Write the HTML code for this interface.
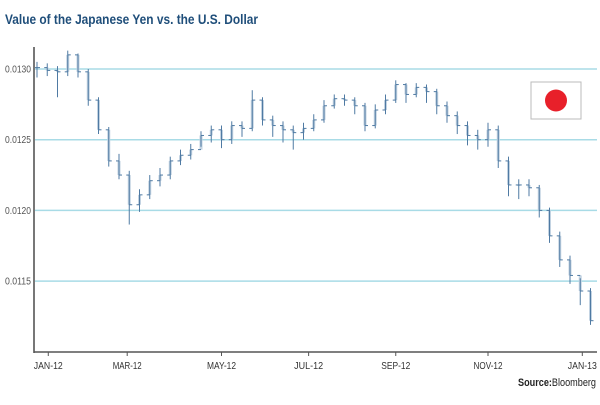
<!DOCTYPE html>
<html><head><meta charset="utf-8"><style>
body{margin:0;background:#fff;width:600px;height:400px;overflow:hidden;font-family:"Liberation Sans",sans-serif}
</style></head><body>
<svg width="600" height="400" xmlns="http://www.w3.org/2000/svg">
<text x="5" y="24" font-size="14" font-weight="bold" fill="#1f4e7a" textLength="253" lengthAdjust="spacingAndGlyphs">Value of the Japanese Yen vs. the U.S. Dollar</text>
<g id="grid"></g>
<g id="yticks"></g>
<g id="bars"></g>
<line x1="34" y1="47" x2="34" y2="353" stroke="#777" stroke-width="2"/>
<line x1="34" y1="352" x2="597" y2="352" stroke="#555" stroke-width="1.5"/>
<g id="xticks"></g>
<g>
<rect x="531" y="82" width="50" height="37" fill="#fff" stroke="#bbb"/>
<circle cx="556" cy="100.5" r="11" fill="#e8202a"/>
</g>
<text x="596" y="386" font-size="11" text-anchor="end" fill="#222" textLength="78" lengthAdjust="spacingAndGlyphs"><tspan font-weight="bold">Source:</tspan>Bloomberg</text>
</svg>
<script>
const yTicks=[0.0115,0.0120,0.0125,0.0130];
const yTickLabels=["0.0115","0.0120","0.0125","0.0130"];
const xTickLabels=["JAN-12","MAR-12","MAY-12","JUL-12","SEP-12","NOV-12","JAN-13"];
const xTickWeeks=[1.1,8.8,18,26.5,35,44,53.2];
const closeVals=[0.01301,0.01299,0.01298,0.01310,0.01298,0.01278,0.01257,0.01235,0.01225,0.01204,0.01211,0.01221,0.01225,0.01235,0.01239,0.01243,0.01253,0.01257,0.01250,0.01260,0.01258,0.01278,0.01264,0.01260,0.01257,0.01255,0.01258,0.01264,0.01274,0.01279,0.01278,0.01274,0.01260,0.01271,0.01278,0.01289,0.01282,0.01287,0.01284,0.01274,0.01267,0.01260,0.01253,0.01250,0.01257,0.01235,0.01218,0.01218,0.01216,0.01200,0.01182,0.01165,0.01154,0.01143,0.01122];
const highVals=[0.01305,0.01304,0.01302,0.01313,0.01311,0.01300,0.01280,0.01259,0.01240,0.01228,0.01215,0.01225,0.01230,0.01238,0.01243,0.01247,0.01256,0.01260,0.01260,0.01263,0.01263,0.01285,0.01280,0.01267,0.01263,0.01260,0.01262,0.01268,0.01278,0.01282,0.01282,0.01280,0.01276,0.01275,0.01282,0.01292,0.01290,0.01290,0.01289,0.01286,0.01277,0.01270,0.01263,0.01257,0.01262,0.01260,0.01238,0.01222,0.01222,0.01218,0.01202,0.01185,0.01168,0.01152,0.01145];
const lowVals=[0.01294,0.01295,0.01280,0.01295,0.01294,0.01274,0.01254,0.01231,0.01222,0.01190,0.01199,0.01208,0.01217,0.01222,0.01232,0.01236,0.01245,0.01248,0.01244,0.01247,0.01252,0.01256,0.01260,0.01252,0.01248,0.01243,0.01250,0.01256,0.01262,0.01272,0.01274,0.01268,0.01256,0.01258,0.01268,0.01276,0.01276,0.01280,0.01276,0.01268,0.01262,0.01254,0.01246,0.01243,0.01245,0.01230,0.01210,0.01208,0.01210,0.01195,0.01177,0.01160,0.01148,0.01133,0.01119];
const NS="http://www.w3.org/2000/svg";
const x0=37,dx=10.25;
function xs(i){return x0+dx*i;}
function ys(v){return 69+(0.0130-v)/0.0005*70.7;}
function mk(t,a,p){const e=document.createElementNS(NS,t);for(const k in a)e.setAttribute(k,a[k]);p.appendChild(e);return e;}
const grid=document.getElementById('grid'),yt=document.getElementById('yticks'),bars=document.getElementById('bars'),xt=document.getElementById('xticks');
yTicks.forEach((v,i)=>{
 const l=mk('line',{x1:34,x2:597,y1:ys(v),y2:ys(v),stroke:'#a8dbe6','stroke-width':1.5},grid);
 
 
 const t=mk('text',{x:31,y:ys(v)+3.5,'font-size':10,'text-anchor':'end',fill:'#555',textLength:26,lengthAdjust:'spacingAndGlyphs'},yt);
 t.textContent=yTickLabels[i];
 
 
});
closeVals.forEach((c,i)=>{
 const x=xs(i);const o=i>0?closeVals[i-1]:c;
 const g=mk('g',{},bars);
 
 
 mk('rect',{x:x-1.5,y:Math.min(ys(o),ys(c)),width:3,height:Math.max(1,Math.abs(ys(o)-ys(c))),fill:'#c3d3e2'},g);
 mk('line',{x1:x,x2:x,y1:ys(highVals[i]),y2:ys(lowVals[i]),stroke:'#4f7aa3','stroke-width':1},g);
 mk('line',{x1:x-3,x2:x,y1:ys(o),y2:ys(o),stroke:'#4f7aa3','stroke-width':1},g);
 mk('line',{x1:x,x2:x+3,y1:ys(c),y2:ys(c),stroke:'#4f7aa3','stroke-width':1},g);
});
xTickLabels.forEach((s,i)=>{
 const x=xs(xTickWeeks[i]);
 const l=mk('line',{x1:x,x2:x,y1:352,y2:356,stroke:'#555'},xt);
 
 
 const t=mk('text',{x:x,y:369,'font-size':10,'text-anchor':'middle',fill:'#333',textLength:29,lengthAdjust:'spacingAndGlyphs'},xt);
 t.textContent=s;
 
 
});
</script>
</body></html>
